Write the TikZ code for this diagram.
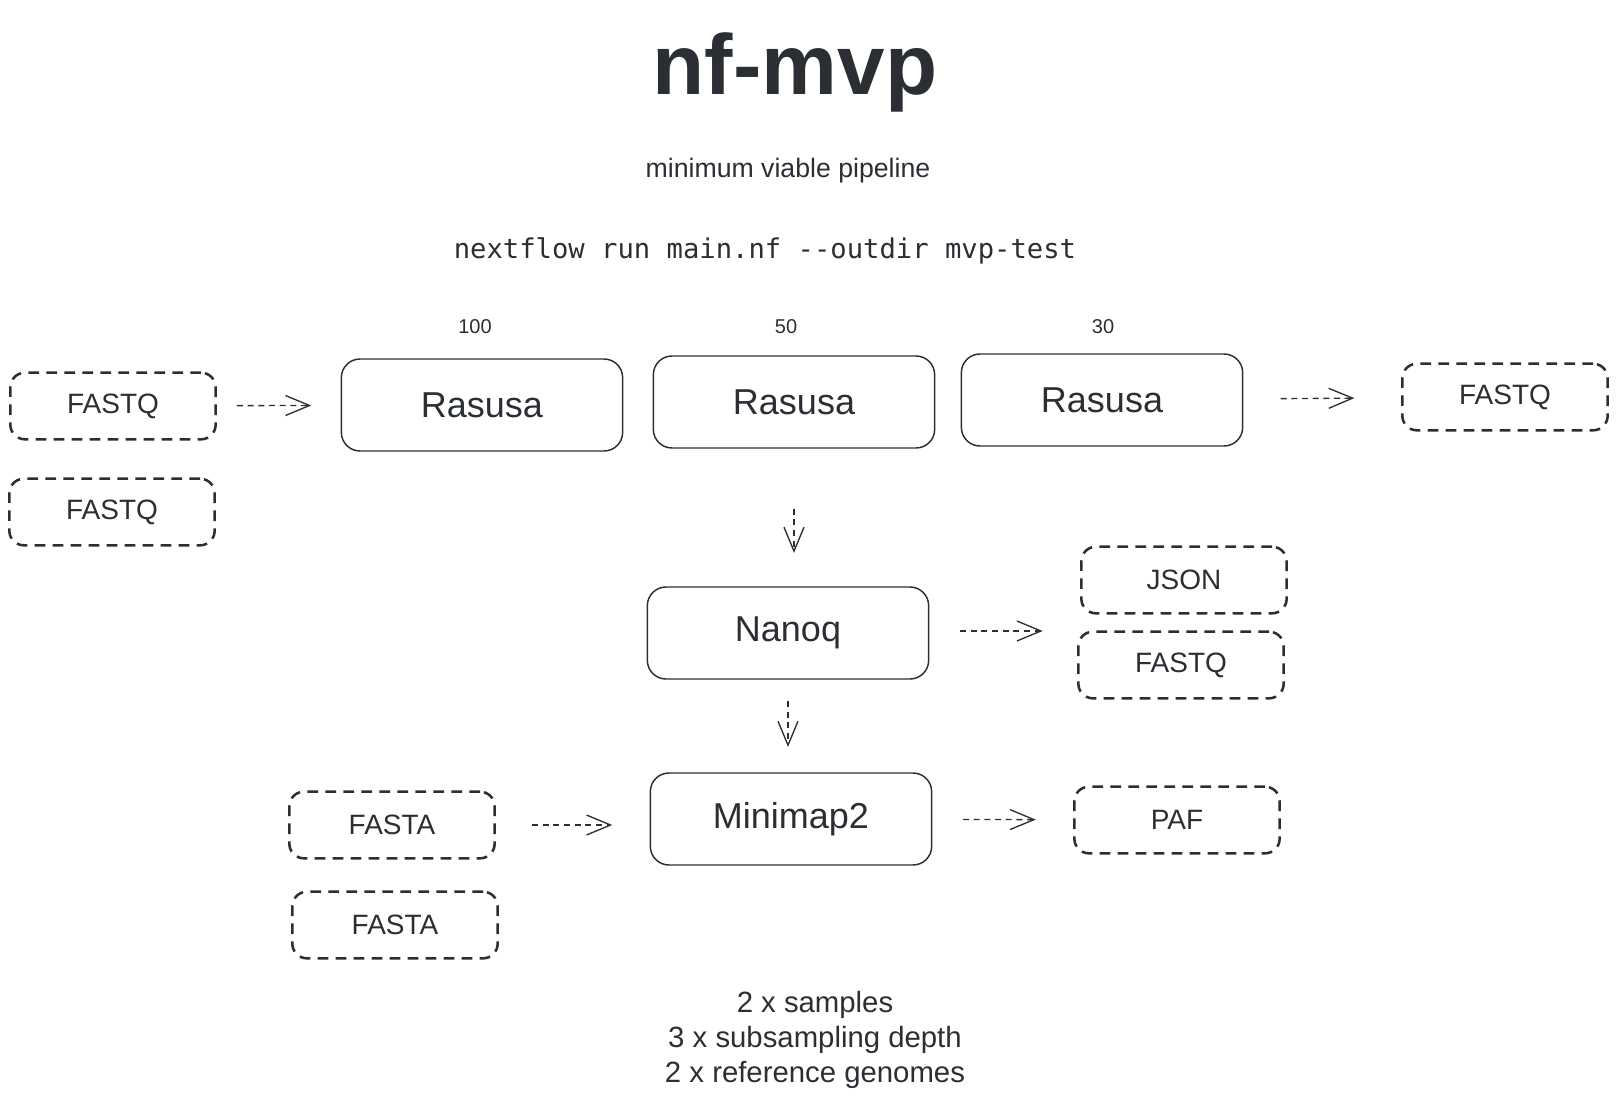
\documentclass[tikz,border=0pt]{standalone}
\usepackage{fontspec}
\setmainfont{Liberation Sans}
\setmonofont{DejaVu Sans Mono}
\usetikzlibrary{arrows.meta}
\definecolor{ink}{HTML}{2B2F33}

\begin{document}
\begin{tikzpicture}[x=0.75pt, y=-0.75pt, ink, line join=round,
proc_style/.style={draw=ink, line width=1.1pt, rounded corners=14pt, minimum width=211pt, minimum height=69pt, inner sep=0pt, font=\fontsize{27}{32}\selectfont},
file_style/.style={draw=ink, line width=1.9pt, dash pattern=on 8pt off 5.5pt, rounded corners=11pt, minimum width=154pt, minimum height=50pt, inner sep=0pt, font=\fontsize{21}{25}\selectfont},
flow_style/.style={draw=ink, line width=1pt, dash pattern=on 4.5pt off 3.5pt, -{Straight Barb[length=18pt,width=15pt]}},
depth_style/.style={anchor=base, font=\fontsize{15}{18}\selectfont}]
\useasboundingbox (0,0) rectangle (1617,1102);

% titles
\node[anchor=base, font=\fontsize{64}{70}\selectfont\bfseries] (title) at (795,95) {nf-mvp};
\node[anchor=base, font=\fontsize{20}{24}\selectfont] (subtitle) at (788,178) {minimum viable pipeline};
\node[anchor=base, font=\ttfamily\fontsize{20.4}{24}\selectfont] (cmd) at (765,258) {nextflow run main.nf -{}-outdir mvp-test};

% subsampling depths
\node[depth_style] (d100) at (475,333) {100};
\node[depth_style] (d50) at (786,333) {50};
\node[depth_style] (d30) at (1103,333) {30};

% processes
\node[proc_style] (rasusaA) at (482,405) {Rasusa};
\node[proc_style] (rasusaB) at (794,402) {Rasusa};
\node[proc_style] (rasusaC) at (1102,400) {Rasusa};
\node[proc_style] (nanoq) at (788,633) {Nanoq};
\node[proc_style] (minimap) at (791,819) {Minimap2};

% files
\node[file_style] (fastqA) at (113,406) {FASTQ};
\node[file_style] (fastqB) at (112,512) {FASTQ};
\node[file_style] (fastqOut) at (1505,397) {FASTQ};
\node[file_style] (json) at (1184,580) {JSON};
\node[file_style] (fastqQc) at (1181,665) {FASTQ};
\node[file_style] (fastaA) at (392,825) {FASTA};
\node[file_style] (fastaB) at (395,925) {FASTA};
\node[file_style] (paf) at (1177,820) {PAF};
\coordinate (nqout) at (1080,631);

% connectors
\draw[flow_style, shorten <=15pt, shorten >=22pt] (fastqA) -- (rasusaA);
\draw[flow_style, shorten <=28pt, shorten >=35pt] (rasusaC) -- (fastqOut);
\draw[flow_style, shorten <=45pt, shorten >=25pt] (rasusaB.south) -- (rasusaB.south |- nanoq.north);
\draw[flow_style, shorten <=23pt, shorten >=28pt] (nanoq.east |- nqout) -- (nqout);
\draw[flow_style, shorten <=16pt, shorten >=19pt] (nanoq.south) -- (nanoq.south |- minimap.north);
\draw[flow_style, shorten <=27pt, shorten >=28pt] (fastaA.east) -- (fastaA.east -| minimap.west);
\draw[flow_style, shorten <=23pt, shorten >=28pt] (minimap) -- (paf);

% run summary
\node[align=center, font=\fontsize{22}{26}\selectfont] (summary) at (815,1040) {2 x samples\\3 x subsampling depth\\2 x reference genomes};

\end{tikzpicture}
\end{document}
